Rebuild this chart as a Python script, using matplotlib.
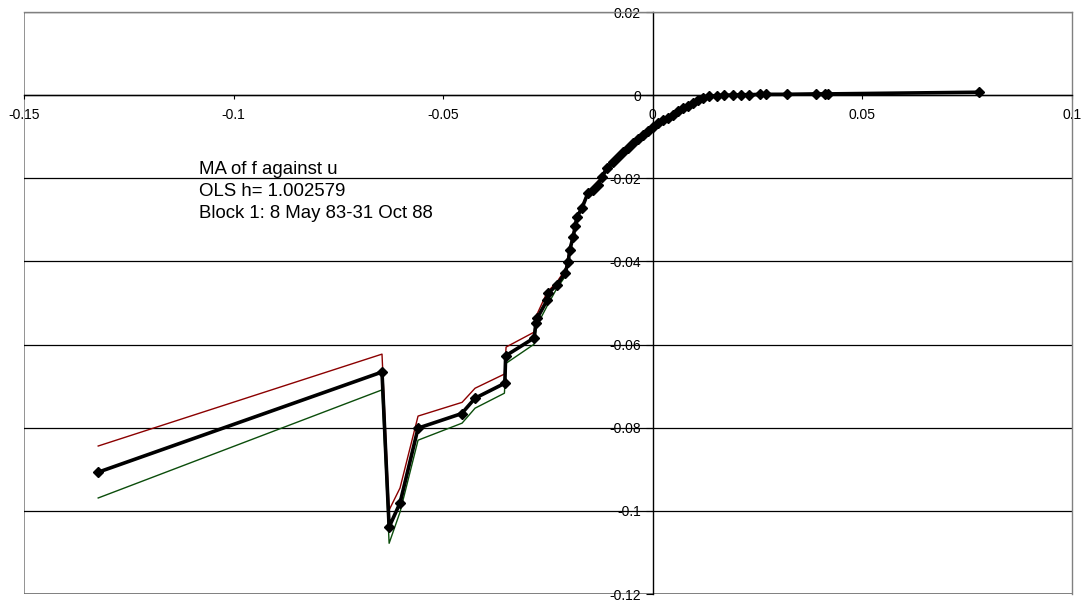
import matplotlib
matplotlib.use("Agg")
import matplotlib.pyplot as plt

plt.rcParams['font.family'] = ['Liberation Sans', 'DejaVu Sans']

# MA of f against u
u_ma = [-0.1323, -0.0646, -0.0629, -0.0603, -0.0560, -0.0456, -0.0424, -0.0353,
        -0.0351, -0.0283, -0.0279, -0.0276, -0.0252, -0.0250, -0.0229, -0.0209,
        -0.0202, -0.0198, -0.0190, -0.0185, -0.0181, -0.0169, -0.0155, -0.0143,
        -0.0131, -0.0121, -0.0110, -0.0096, -0.0084, -0.0072, -0.0060, -0.0048,
        -0.0036, -0.0024, -0.0012, 0.0000, 0.0012, 0.0024, 0.0036, 0.0048,
        0.0060, 0.0072, 0.0084, 0.0096, 0.0108, 0.0119, 0.0135, 0.0153,
        0.0170, 0.0191, 0.0210, 0.0230, 0.0256, 0.0270, 0.0320, 0.0390,
        0.0410, 0.0419, 0.0778]
f_ma = [-0.0907, -0.0666, -0.1039, -0.0981, -0.0801, -0.0766, -0.0729, -0.0693,
        -0.0627, -0.0584, -0.0549, -0.0537, -0.0493, -0.0477, -0.0457, -0.0428,
        -0.0402, -0.0372, -0.0341, -0.0315, -0.0293, -0.0272, -0.0236, -0.0228,
        -0.0216, -0.0197, -0.0175, -0.0161, -0.0149, -0.0137, -0.0126, -0.0115,
        -0.0105, -0.0096, -0.0087, -0.0077, -0.0068, -0.0060, -0.0054, -0.0048,
        -0.0039, -0.0031, -0.0025, -0.0019, -0.0012, -0.0007, -0.0003, -0.0001,
        0.0000, 0.0000, 0.0001, 0.0001, 0.0002, 0.0002, 0.0002, 0.0003,
        0.0003, 0.0003, 0.0007]

# upper and lower bands
u_band = [-0.1323, -0.0646, -0.0629, -0.0603, -0.0560, -0.0455, -0.0424, -0.0354,
          -0.0350, -0.0283, -0.0278, -0.0252, -0.0229, -0.0209, -0.0198, -0.0181,
          -0.0155, -0.0121, -0.0072, 0.0000, 0.0072, 0.0153, 0.0256, 0.0419]
f_upper = [-0.0844, -0.0623, -0.0998, -0.0945, -0.0772, -0.0739, -0.0705, -0.0671,
           -0.0606, -0.0570, -0.0531, -0.0474, -0.0450, -0.0420, -0.0368, -0.0291,
           -0.0235, -0.0196, -0.0137, -0.0077, -0.0031, -0.0001, 0.0002, 0.0003]
f_lower = [-0.0969, -0.0709, -0.1078, -0.1003, -0.0830, -0.0789, -0.0753, -0.0717,
           -0.0645, -0.0599, -0.0557, -0.0507, -0.0465, -0.0436, -0.0376, -0.0295,
           -0.0237, -0.0198, -0.0137, -0.0077, -0.0031, -0.0001, 0.0002, 0.0003]

x_ticks = [-0.15, -0.1, -0.05, 0, 0.05, 0.1]
x_labels = ['-0.15', '-0.1', '-0.05', '0', '0.05', '0.1']
y_ticks = [0.02, 0, -0.02, -0.04, -0.06, -0.08, -0.1, -0.12]
y_labels = ['0.02', '0', '-0.02', '-0.04', '-0.06', '-0.08', '-0.1', '-0.12']

notes = ['MA of f against u', 'OLS h= 1.002579', 'Block 1: 8 May 83-31 Oct 88']

fig = plt.figure(figsize=(10.83, 6.0), dpi=100)
ax = fig.add_axes([24 / 1083, 6 / 600, 1048 / 1083, 582 / 600])

ax.set_xlim(-0.15, 0.1)
ax.set_ylim(-0.12, 0.02)

# horizontal gridlines
for yv in y_ticks:
    ax.axhline(yv, color='#000000', lw=0.9, zorder=1)

ax.plot(u_band, f_upper, color='#8b0000', lw=1.0, zorder=2)
ax.plot(u_band, f_lower, color='#0b4d0b', lw=1.0, zorder=2)
ax.plot(u_ma, f_ma, color='black', lw=2.6, marker='D', markersize=4.8, zorder=3)

# axes through the origin, grey frame around the plot area
for side in ['top', 'right']:
    ax.spines[side].set_color('#808080')
    ax.spines[side].set_linewidth(1.0)
ax.spines['left'].set_position(('data', 0))
ax.spines['bottom'].set_position(('data', 0))
ax.spines['left'].set_linewidth(1.0)
ax.spines['bottom'].set_linewidth(1.0)
ax.axvline(-0.15, color='#808080', lw=1.2, zorder=0)
ax.axhline(-0.12, color='#808080', lw=1.2, zorder=0)

ax.set_xticks(x_ticks)
ax.set_xticklabels(x_labels)
ax.set_yticks(y_ticks)
ax.set_yticklabels(y_labels)
ax.tick_params(axis='x', direction='out', length=3, pad=6, labelsize=10)
ax.tick_params(axis='y', direction='out', length=5, pad=3.5, labelsize=10)

for i, line in enumerate(notes):
    fig.text(199 / 1083, 1 - (174 + 22 * i) / 600, line, fontsize=13.4,
             va='baseline', ha='left')

fig.savefig('out.png', dpi=100)
